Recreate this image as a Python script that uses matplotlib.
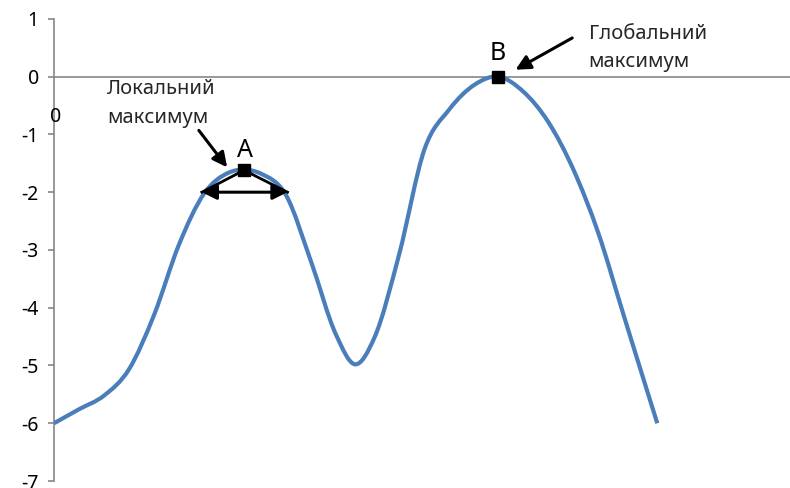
import numpy as np
import matplotlib
matplotlib.use("Agg")
import matplotlib.pyplot as plt
from matplotlib.path import Path
from matplotlib.patches import PathPatch

plt.rcParams['font.family'] = ['Noto Sans', 'DejaVu Sans']

# curve
x_vals = [0.00, 0.41, 0.83, 1.24, 1.66, 2.07, 2.49, 2.90, 3.17, 3.43, 3.85, 4.26,
          4.68, 4.99, 5.31, 5.72, 6.14, 6.55, 6.97, 7.36, 7.78, 8.19, 8.61,
          9.02, 9.44, 9.85, 10.00]
y_vals = [-6.00, -5.76, -5.52, -5.07, -4.12, -2.91, -2.02, -1.66, -1.61, -1.68, -2.06, -3.20,
          -4.48, -4.98, -4.52, -3.08, -1.26, -0.57, -0.14, 0.00, -0.26, -0.78, -1.61,
          -2.70, -4.12, -5.50, -6.00]
y_ticks = [1, 0, -1, -2, -3, -4, -5, -6, -7]

point_a = (3.15, -1.62)
point_b = (7.36, 0.0)
base_a = (2.45, 3.87, -2.0)

line_color = "#4A7EBB"
axis_color = "#868686"
text_color = "#262626"


def smooth_path(xs, ys):
    # cubic Hermite through the points (three-point slopes), as Bezier segments
    x = np.asarray(xs, float)
    y = np.asarray(ys, float)
    h = np.diff(x)
    d = np.diff(y) / h
    m = np.empty_like(x)
    m[0], m[-1] = d[0], d[-1]
    m[1:-1] = (h[:-1] * d[1:] + h[1:] * d[:-1]) / (h[:-1] + h[1:])
    verts = [(x[0], y[0])]
    codes = [Path.MOVETO]
    for i in range(len(x) - 1):
        verts += [(x[i] + h[i] / 3, y[i] + m[i] * h[i] / 3),
                  (x[i + 1] - h[i] / 3, y[i + 1] - m[i + 1] * h[i] / 3),
                  (x[i + 1], y[i + 1])]
        codes += [Path.CURVE4] * 3
    return Path(verts, codes)


fig = plt.figure(figsize=(7.9, 4.88), dpi=100)
ax = fig.add_axes([0.0684, 0.0143, 0.9316, 0.947])
ax.set_xlim(0, 12.2)
ax.set_ylim(-7, 1)

ax.add_patch(PathPatch(smooth_path(x_vals, y_vals), fill=False,
                       edgecolor=line_color, linewidth=3.0, capstyle="butt", zorder=3))

ax.axhline(0, color=axis_color, linewidth=1.2, zorder=1)
for side in ["top", "right", "bottom"]:
    ax.spines[side].set_visible(False)
ax.spines["left"].set_color(axis_color)
ax.spines["left"].set_linewidth(1.2)
ax.set_xticks([])
ax.set_yticks(y_ticks)
ax.set_yticklabels([str(t) for t in y_ticks])
ax.tick_params(axis="y", length=4, color=axis_color, width=1.2, pad=7, labelsize=14)
ax.text(-0.06, -0.69, "0", fontsize=14, ha="left", va="center")

arrow_kw = dict(color="black", lw=2.2, mutation_scale=22, shrinkA=0, shrinkB=0)

# local maximum markup
ax.plot([base_a[0], point_a[0], base_a[1]], [base_a[2], point_a[1], base_a[2]],
        color="black", linewidth=2.0, zorder=4)
ax.annotate("", xy=(base_a[0], base_a[2]), xytext=(base_a[1], base_a[2]),
            arrowprops=dict(arrowstyle="<|-|>", **arrow_kw), zorder=4)
ax.plot(*point_a, marker="s", color="black", markersize=8, zorder=5)
ax.text(point_a[0] + 0.02, -1.27, "A", fontsize=18, ha="center", va="center")
ax.annotate("", xy=(2.87, -1.57), xytext=(2.40, -0.93),
            arrowprops=dict(arrowstyle="-|>", **arrow_kw))
ax.text(0.88, -0.22, "Локальний", fontsize=14.5, ha="left", va="center", color=text_color)
ax.text(0.88, -0.71, "максимум", fontsize=14.5, ha="left", va="center", color=text_color)

# global maximum markup
ax.plot(*point_b, marker="s", color="black", markersize=9, zorder=5)
ax.text(point_b[0], 0.40, "B", fontsize=18, ha="center", va="center")
ax.annotate("", xy=(7.65, 0.12), xytext=(8.59, 0.67),
            arrowprops=dict(arrowstyle="-|>", **arrow_kw))
ax.text(8.86, 0.74, "Глобальний", fontsize=14.5, ha="left", va="center", color=text_color)
ax.text(8.86, 0.26, "максимум", fontsize=14.5, ha="left", va="center", color=text_color)

fig.savefig("out.png", dpi=100)
